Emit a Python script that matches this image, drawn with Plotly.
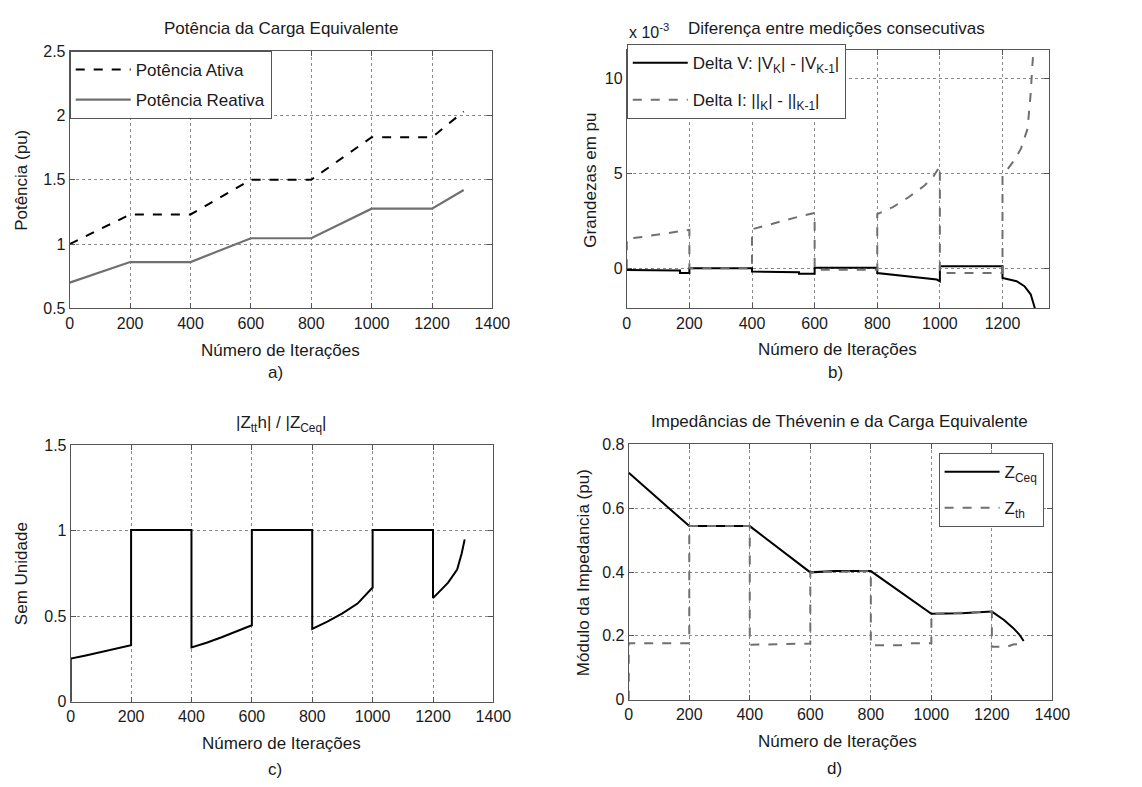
import plotly.graph_objects as go

W, H = 1142, 787
FONT = "Liberation Sans, Arial, sans-serif"
TXT = "#1a1a1a"
GRAY = "#707070"

# ---- a) Potência da Carga Equivalente
a_x = [0, 200, 400, 600, 800, 1000, 1200, 1305]
p_ativa = [1.00, 1.23, 1.23, 1.50, 1.50, 1.83, 1.83, 2.03]
p_reativa = [0.70, 0.86, 0.86, 1.045, 1.045, 1.275, 1.275, 1.42]

# ---- b) Diferença entre medições consecutivas (x 10^-3)
dv_x = [0, 170, 170, 200, 200, 400, 400, 550, 550, 600, 600, 800, 800, 900, 990, 1000, 1000,
        1200, 1200, 1245, 1270, 1290, 1300, 1305, 1308]
dv = [-0.10, -0.12, -0.25, -0.25, 0.0, 0.0, -0.18, -0.22, -0.30, -0.30, 0.02, 0.02, -0.26,
      -0.43, -0.60, -0.69, 0.10, 0.10, -0.52, -0.69, -0.95, -1.38, -1.90, -2.20, -2.6]
di_x = [0, 0, 50, 100, 150, 200, 200, 400, 400, 450, 500, 550, 600, 600, 800, 800, 850, 900,
        950, 980, 1000, 1000, 1200, 1200, 1238, 1259, 1280, 1290, 1295, 1298]
di = [0.0, 1.55, 1.65, 1.76, 1.88, 2.02, 0.0, 0.0, 2.05, 2.28, 2.53, 2.72, 2.91, -0.08, -0.08,
      2.85, 3.22, 3.74, 4.34, 4.85, 5.38, -0.26, -0.26, 4.86, 5.70, 6.30, 7.35, 9.20, 10.60, 11.30]

# ---- c) |Zth| / |ZCeq|
r_x = [0, 0, 50, 100, 150, 200, 200, 400, 400, 450, 500, 550, 600, 600, 800, 800, 850, 900,
       950, 1000, 1000, 1200, 1200, 1230, 1250, 1280, 1295, 1305]
ratio = [0.0, 0.252, 0.27, 0.29, 0.31, 0.33, 1.005, 1.005, 0.318, 0.345, 0.377, 0.41, 0.447,
         1.005, 1.005, 0.426, 0.468, 0.517, 0.574, 0.668, 1.005, 1.005, 0.606, 0.66, 0.697,
         0.773, 0.867, 0.95]

# ---- d) Impedâncias
zc_x = [0, 200, 400, 600, 680, 800, 1000, 1100, 1200, 1240, 1270, 1290, 1305]
z_ceq = [0.711, 0.544, 0.544, 0.399, 0.403, 0.403, 0.269, 0.271, 0.276, 0.25, 0.225, 0.205, 0.184]
zt_x = [0, 0, 200, 200, 400, 400, 600, 600, 800, 800, 900, 930, 1000, 1000, 1200, 1200,
        1250, 1270, 1300, 1305]
z_th = [0.0, 0.177, 0.177, 0.544, 0.544, 0.172, 0.176, 0.399, 0.403, 0.171, 0.171, 0.177,
        0.177, 0.269, 0.276, 0.166, 0.166, 0.173, 0.175, 0.184]

x_ticks = [0, 200, 400, 600, 800, 1000, 1200, 1400]

fig = go.Figure()

fig.add_trace(go.Scatter(x=a_x, y=p_ativa, mode="lines", name="Potência Ativa",
                         line=dict(color="black", width=2, dash="dash"), legendgroup="a1",
                         xaxis="x", yaxis="y", legend="legend"))
fig.add_trace(go.Scatter(x=a_x, y=p_reativa, mode="lines", name="Potência Reativa",
                         line=dict(color=GRAY, width=2.2), legendgroup="a2",
                         xaxis="x", yaxis="y", legend="legend"))

fig.add_trace(go.Scatter(x=dv_x, y=dv, mode="lines",
                         name="Delta V: |V<sub>K</sub>| - |V<sub>K-1</sub>|",
                         line=dict(color="black", width=2), legendgroup="b1",
                         xaxis="x2", yaxis="y2", legend="legend2"))
fig.add_trace(go.Scatter(x=di_x, y=di, mode="lines",
                         name="Delta I: ||<sub>K</sub>| - ||<sub>K-1</sub>|",
                         line=dict(color=GRAY, width=2, dash="dash"), legendgroup="b2",
                         xaxis="x2", yaxis="y2", legend="legend2"))

fig.add_trace(go.Scatter(x=r_x, y=ratio, mode="lines", showlegend=False,
                         line=dict(color="black", width=2),
                         xaxis="x3", yaxis="y3"))

fig.add_trace(go.Scatter(x=zc_x, y=z_ceq, mode="lines", name="Z<sub>Ceq</sub>",
                         line=dict(color="black", width=2), legendgroup="d1",
                         xaxis="x4", yaxis="y4", legend="legend3"))
fig.add_trace(go.Scatter(x=zt_x, y=z_th, mode="lines", name="Z<sub>th</sub>",
                         line=dict(color=GRAY, width=2, dash="dash"), legendgroup="d2",
                         xaxis="x4", yaxis="y4", legend="legend3"))


def px_x(v):
    return v / W


def px_y(v):
    return 1 - v / H


def axis_common(**kw):
    d = dict(showline=True, linecolor="#555", linewidth=1, mirror="ticks",
             ticks="inside", ticklen=5, tickcolor="#555",
             showgrid=True, gridcolor="#8a8a8a", griddash="dot", gridwidth=1,
             zeroline=False, tickfont=dict(family=FONT, size=16, color=TXT))
    d.update(kw)
    return d


def legend_style(**kw):
    d = dict(bgcolor="white", bordercolor="#555", borderwidth=1, itemwidth=55,
             font=dict(family=FONT, size=17, color=TXT))
    d.update(kw)
    return d


fig.update_layout(
    width=W, height=H, margin=dict(l=0, r=0, t=0, b=0),
    paper_bgcolor="white", plot_bgcolor="white",
    font=dict(family=FONT, color=TXT, size=16),
    xaxis=axis_common(domain=[px_x(67), px_x(498)], range=[0, 1400], tickvals=x_ticks, anchor="y"),
    yaxis=axis_common(domain=[px_y(307), px_y(44)], range=[0.5, 2.5],
                      tickvals=[0.5, 1, 1.5, 2, 2.5], anchor="x"),
    xaxis2=axis_common(domain=[px_x(635), px_x(1066)], range=[0, 1350],
                       tickvals=[0, 200, 400, 600, 800, 1000, 1200], anchor="y2"),
    yaxis2=axis_common(domain=[px_y(307), px_y(43)], range=[-2.12, 11.5],
                       tickvals=[0, 5, 10], anchor="x2"),
    xaxis3=axis_common(domain=[px_x(68), px_x(499)], range=[0, 1400], tickvals=x_ticks, anchor="y3"),
    yaxis3=axis_common(domain=[px_y(709), px_y(447)], range=[0, 1.5],
                       tickvals=[0, 0.5, 1, 1.5], anchor="x3"),
    xaxis4=axis_common(domain=[px_x(637), px_x(1069)], range=[0, 1400], tickvals=x_ticks, anchor="y4"),
    yaxis4=axis_common(domain=[px_y(707), px_y(446)], range=[0, 0.8],
                       tickvals=[0, 0.2, 0.4, 0.6, 0.8], anchor="x4"),
    legend=legend_style(x=px_x(67), y=px_y(44), xanchor="left", yanchor="top",
                        tracegroupgap=5),
    legend2=legend_style(x=px_x(635), y=px_y(37), xanchor="left", yanchor="top",
                         tracegroupgap=12),
    legend3=legend_style(x=px_x(1060), y=px_y(455), xanchor="right", yanchor="top",
                         tracegroupgap=11),
)

annots = [
    # titles
    ("Potência da Carga Equivalente", 282, 21, 0, 17),
    ("Diferença entre medições consecutivas", 849, 21, 0, 17),
    ("|Z<sub>tt</sub>h| / |Z<sub>Ceq</sub>|", 283, 425, 0, 17),
    ("Impedâncias de Thévenin e da Carga Equivalente", 852, 423, 0, 17),
    # x titles
    ("Número de Iterações", 282, 350, 0, 17),
    ("Número de Iterações", 850, 349, 0, 17),
    ("Número de Iterações", 283, 752, 0, 17),
    ("Número de Iterações", 850, 750, 0, 17),
    # sub labels
    ("a)", 277, 373, 0, 17),
    ("b)", 848, 373, 0, 17),
    ("c)", 276, 778, 0, 17),
    ("d)", 847, 777, 0, 17),
    # y titles
    ("Potência (pu)", 18, 176, -90, 17),
    ("Grandezas em pu", 598, 176, -90, 17),
    ("Sem Unidade", 18, 578, -90, 17),
    ("Módulo da Impedancia (pu)", 591, 577, -90, 17),
]
for text, x, y, ang, size in annots:
    fig.add_annotation(text=text, x=px_x(x), y=px_y(y), xref="paper", yref="paper",
                       xanchor="center", yanchor="middle", showarrow=False, textangle=ang,
                       font=dict(family=FONT, size=size, color=TXT))

fig.add_annotation(text="x 10<sup>-3</sup>", x=px_x(635), y=px_y(24), xref="paper", yref="paper",
                   xanchor="left", yanchor="middle", showarrow=False,
                   font=dict(family=FONT, size=16, color=TXT))

fig.write_html("out.html")
